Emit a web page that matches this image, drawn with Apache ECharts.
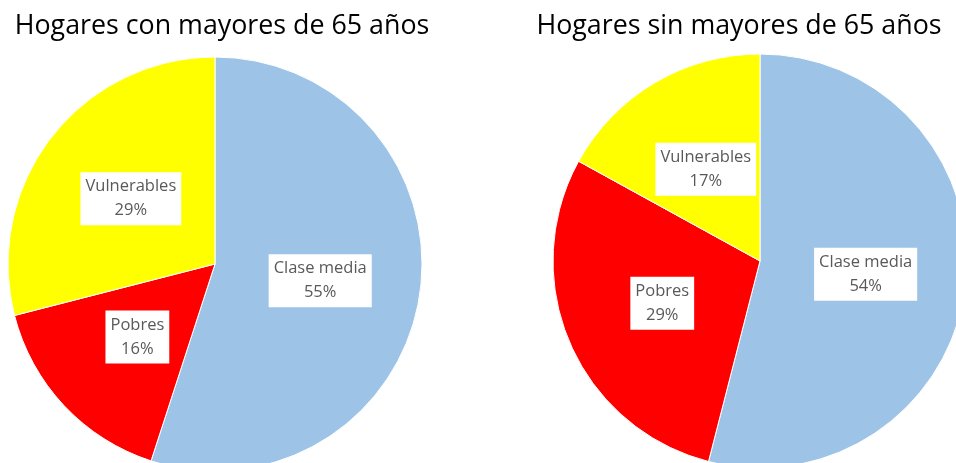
<!DOCTYPE html>
<html>
<head>
<meta charset="utf-8">
<script src="https://cdn.jsdelivr.net/npm/echarts@6/dist/echarts.min.js"></script>
<style>
  html, body { margin: 0; padding: 0; background: #fff; }
  #chart { width: 956px; height: 463px; }
</style>
</head>
<body>
<div id="chart"></div>
<script>
// categories and shares (%)
var categories = ["Clase media", "Pobres", "Vulnerables"];
var conMayores = [55, 16, 29];
var sinMayores = [54, 29, 17];
var titles = ["Hogares con mayores de 65 años", "Hogares sin mayores de 65 años"];
var colors = ["#9DC3E6", "#FF0000", "#FFFF00"];

var chart = echarts.init(document.getElementById("chart"));

function toData(values) {
  return categories.map(function (name, i) {
    return { name: name, value: values[i] };
  });
}

function pie(values, center) {
  return {
    type: "pie",
    center: center,
    radius: 207,
    startAngle: 90,
    clockwise: true,
    silent: true,
    animation: false,
    itemStyle: { borderColor: "#fff", borderWidth: 1 },
    label: {
      show: true,
      position: "inside",
      formatter: "{b}\n{c}%",
      fontFamily: "Open Sans",
      fontSize: 16.5,
      lineHeight: 24,
      color: "#595959",
      backgroundColor: "#fff",
      padding: [3, 5, 2, 5]
    },
    labelLine: { show: false },
    data: toData(values)
  };
}

var titleStyle = { fontFamily: "Open Sans", fontSize: 26.8, fontWeight: "normal", color: "#000" };

chart.setOption({
  color: colors,
  title: [
    { text: titles[0], left: 217, top: 8, textAlign: "center", textStyle: titleStyle },
    { text: titles[1], left: 734, top: 8, textAlign: "center", textStyle: titleStyle }
  ],
  series: [
    pie(conMayores, [215, 264]),
    pie(sinMayores, [760, 261])
  ]
});
</script>
</body>
</html>
